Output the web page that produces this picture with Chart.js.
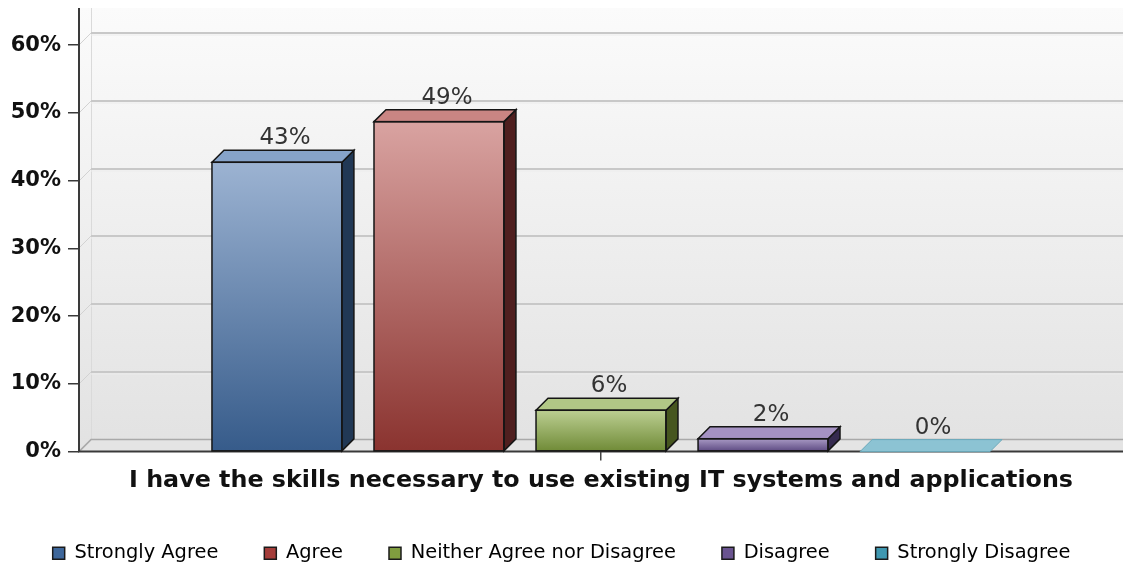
<!DOCTYPE html>
<html><head><meta charset="utf-8">
<script src="https://cdn.jsdelivr.net/npm/chart.js@4.4.1/dist/chart.umd.min.js"></script>
<style>html,body{margin:0;padding:0;background:#fff;overflow:hidden}</style>
</head><body>
<canvas id="c" width="1123" height="569"></canvas>
<script>
const categories = ['I have the skills necessary to use existing IT systems and applications'];
const seriesNames = ['Strongly Agree', 'Agree', 'Neither Agree nor Disagree', 'Disagree', 'Strongly Disagree'];
const seriesValues = [42.7, 48.7, 6.1, 1.9, 0];
const yTickValues = [0, 10, 20, 30, 40, 50, 60];

const frontTop = ['#9cb3d2', '#d9a3a1', '#bccf92', '#a899c4', '#9fd0de'];
const frontBottom = ['#365b8a', '#8a332f', '#6f8a36', '#5b4880', '#3f93aa'];
const sideColors = ['#213855', '#4f1f1f', '#46561f', '#352a4f', '#25586a'];
const topColors = ['#86a3c9', '#c98583', '#b1c786', '#a592c3', '#8cc3d3'];
const legendColors = ['#3e679b', '#a53d3a', '#809d3f', '#6a5490', '#3f98b1'];

const DEPTH = 12;

const scene3d = {
  id: 'scene3d',
  beforeDatasetsDraw(chart) {
    const {ctx, chartArea: a, scales: {y}} = chart;
    const top = a.top - DEPTH;
    const base = y.getPixelForValue(0);
    ctx.save();
    const g = ctx.createLinearGradient(0, top, 0, base);
    g.addColorStop(0, '#fbfbfb');
    g.addColorStop(1, '#e2e2e2');
    ctx.fillStyle = g;
    ctx.fillRect(a.left, top, a.right - a.left, base - top);
    ctx.strokeStyle = '#dadada';
    ctx.lineWidth = 1;
    ctx.beginPath();
    ctx.moveTo(a.left + DEPTH + 0.5, top);
    ctx.lineTo(a.left + DEPTH + 0.5, base - DEPTH);
    ctx.stroke();
    yTickValues.forEach(v => {
      if (v === 0) return;
      const py = Math.round(y.getPixelForValue(v));
      ctx.strokeStyle = '#c8c8c8';
      ctx.lineWidth = 2;
      ctx.beginPath();
      ctx.moveTo(a.left + DEPTH, py - DEPTH);
      ctx.lineTo(a.right, py - DEPTH);
      ctx.stroke();
      ctx.strokeStyle = '#ececec';
      ctx.lineWidth = 1;
      ctx.beginPath();
      ctx.moveTo(a.left + DEPTH, py - DEPTH + 2);
      ctx.lineTo(a.right, py - DEPTH + 2);
      ctx.stroke();
      ctx.strokeStyle = '#d2d2d2';
      ctx.lineWidth = 1;
      ctx.beginPath();
      ctx.moveTo(a.left, py);
      ctx.lineTo(a.left + DEPTH, py - DEPTH);
      ctx.stroke();
    });
    ctx.fillStyle = '#e4e4e4';
    ctx.beginPath();
    ctx.moveTo(a.left, base);
    ctx.lineTo(a.left + DEPTH, base - DEPTH);
    ctx.lineTo(a.right, base - DEPTH);
    ctx.lineTo(a.right, base);
    ctx.closePath();
    ctx.fill();
    ctx.strokeStyle = '#a9a9a9';
    ctx.lineWidth = 1.5;
    ctx.beginPath();
    ctx.moveTo(a.left, base);
    ctx.lineTo(a.left + DEPTH, base - DEPTH);
    ctx.lineTo(a.right, base - DEPTH);
    ctx.stroke();
    ctx.strokeStyle = '#3a3a3a';
    ctx.lineWidth = 2;
    ctx.beginPath();
    ctx.moveTo(a.left, top);
    ctx.lineTo(a.left, base);
    ctx.lineTo(a.right, base);
    ctx.stroke();
    ctx.restore();
  },
  afterDatasetsDraw(chart) {
    const {ctx} = chart;
    ctx.save();
    chart.data.datasets.forEach((ds, i) => {
      const meta = chart.getDatasetMeta(i);
      meta.data.forEach((el, j) => {
        const w = el.width;
        const left = el.x - w / 2, right = el.x + w / 2;
        const t = Math.min(el.y, el.base), b = Math.max(el.y, el.base);
        ctx.lineJoin = 'miter';
        ctx.strokeStyle = '#151515';
        ctx.lineWidth = 1.5;
        if (b - t > 0.5) {
          ctx.fillStyle = sideColors[i];
          ctx.beginPath();
          ctx.moveTo(right, t);
          ctx.lineTo(right + DEPTH, t - DEPTH);
          ctx.lineTo(right + DEPTH, b - DEPTH);
          ctx.lineTo(right, b);
          ctx.closePath();
          ctx.fill();
          ctx.stroke();
        }
        ctx.fillStyle = topColors[i];
        ctx.beginPath();
        ctx.moveTo(left, t);
        ctx.lineTo(left + DEPTH, t - DEPTH);
        ctx.lineTo(right + DEPTH, t - DEPTH);
        ctx.lineTo(right, t);
        ctx.closePath();
        ctx.fill();
        if (b - t > 0.5) {
          ctx.stroke();
          ctx.strokeRect(left, t, w, b - t);
        } else {
          ctx.strokeStyle = '#6aa9bb';
          ctx.lineWidth = 1;
          ctx.stroke();
        }
        const v = ds.data[j];
        ctx.fillStyle = '#333';
        ctx.font = '23px "DejaVu Sans"';
        ctx.textAlign = 'center';
        ctx.textBaseline = 'alphabetic';
        ctx.fillText(Math.round(v) + '%', el.x + DEPTH / 2 + 2, t - DEPTH - 6);
      });
    });
    ctx.restore();
  }
};

function barGradient(i) {
  return (c) => {
    const chart = c.chart;
    const y = chart.scales && chart.scales.y;
    if (!y || c.raw === undefined || !chart.chartArea) return legendColors[i];
    const t = y.getPixelForValue(c.raw), b = y.getPixelForValue(0);
    if (!isFinite(t) || !isFinite(b) || Math.abs(b - t) < 1) return legendColors[i];
    const g = chart.ctx.createLinearGradient(0, t, 0, b);
    g.addColorStop(0, frontTop[i]);
    g.addColorStop(1, frontBottom[i]);
    return g;
  };
}

new Chart(document.getElementById('c'), {
  type: 'bar',
  data: {
    labels: categories,
    datasets: seriesNames.map((name, i) => ({
      label: name,
      data: [seriesValues[i]],
      backgroundColor: barGradient(i),
      borderWidth: 0
    }))
  },
  options: {
    responsive: false,
    animation: false,
    devicePixelRatio: 1,
    layout: {padding: {top: 20, left: 0, right: 0, bottom: -4}},
    datasets: {bar: {categoryPercentage: 0.776, barPercentage: 0.802}},
    scales: {
      x: {
        grid: {display: true, drawOnChartArea: false, offset: false, tickLength: 9, color: '#444', lineWidth: 1.5},
        border: {display: false},
        ticks: {font: {family: 'DejaVu Sans', weight: 'bold', size: 23.8}, color: '#111', padding: 6, maxRotation: 0, autoSkip: false},
        afterFit(s) { s.height = 46; }
      },
      y: {
        min: 0, max: 63.7,
        afterBuildTicks(s) { s.ticks = yTickValues.map(v => ({value: v})); },
        grid: {drawOnChartArea: false, tickLength: 11, color: '#3a3a3a', lineWidth: 1.5},
        border: {display: false},
        ticks: {callback: v => v + '%', font: {family: 'DejaVu Sans', weight: 'bold', size: 21}, color: '#111', padding: 7},
        afterFit(s) { s.width = 79; }
      }
    },
    plugins: {
      legend: {
        position: 'bottom',
        labels: {
          boxWidth: 12, boxHeight: 12, padding: 46,
          font: {family: 'DejaVu Sans', size: 19.4}, color: '#222',
          generateLabels: () => seriesNames.map((n, i) => ({
            text: n, fillStyle: legendColors[i], strokeStyle: '#1a1a1a', lineWidth: 1.5, datasetIndex: i, hidden: false
          }))
        }
      },
      tooltip: {enabled: false}
    }
  },
  plugins: [scene3d]
});
</script>
</body></html>
